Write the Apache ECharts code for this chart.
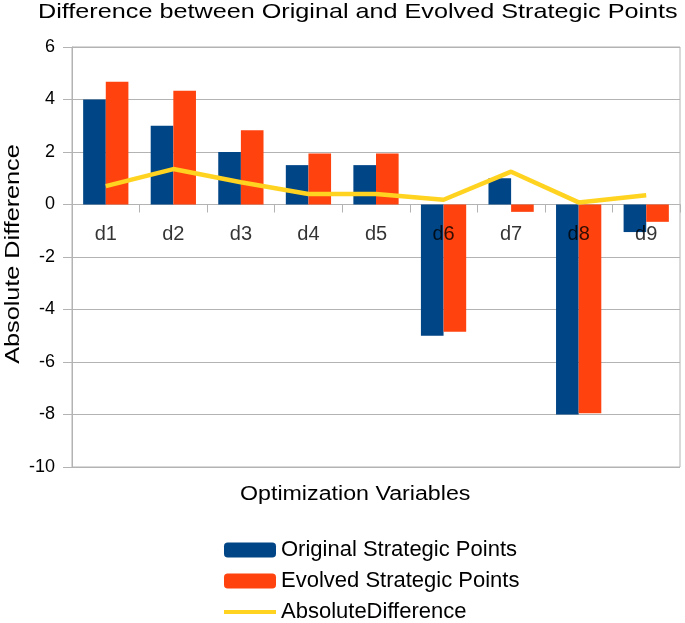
<!DOCTYPE html>
<html><head><meta charset="utf-8">
<script src="https://cdn.jsdelivr.net/npm/echarts@6/dist/echarts.min.js"></script>
<style>html,body{margin:0;padding:0;background:#fff}#c{width:685px;height:623px}</style>
</head><body><div id="c"></div>
<script>
const categories = ['d1', 'd2', 'd3', 'd4', 'd5', 'd6', 'd7', 'd8', 'd9'];
const originalPoints = [4, 3, 2, 1.5, 1.5, -5, 1, -8, -1.05];
const evolvedPoints = [4.68, 4.33, 2.83, 1.94, 1.94, -4.85, -0.28, -7.95, -0.66];
const absoluteDifference = [0.7, 1.35, 0.85, 0.4, 0.4, 0.18, 1.25, 0.08, 0.35];
const labelBaseline = [0, 0, 0, 0, 0, 0, 0, 0, 0];
const yMin = -10, yMax = 6, yInterval = 2;

const FONT = '"Liberation Sans", Arial, sans-serif';
const chart = echarts.init(document.getElementById('c'), null, {renderer: 'canvas'});
const legendText = {fontFamily: FONT, fontSize: 22, color: '#000', lineHeight: 22};
chart.setOption({
  animation: false,
  backgroundColor: '#fff',
  textStyle: {fontFamily: FONT, color: '#000'},
  grid: {left: 72, right: 5, top: 47, bottom: 156, show: true, borderColor: '#b3b3b3', borderWidth: 1, containLabel: false, outerBoundsMode: 'none'},
  legend: [
    {orient: 'vertical', left: 224, top: 539, padding: 0, itemWidth: 52, itemHeight: 15,
     textStyle: legendText, data: ['Original Strategic Points']},
    {orient: 'vertical', left: 224, top: 570, padding: 0, itemWidth: 52, itemHeight: 15,
     textStyle: legendText, data: ['Evolved Strategic Points']},
    {orient: 'vertical', left: 224, top: 601, padding: 0, itemWidth: 52, itemHeight: 4,
     textStyle: legendText, data: [{name: 'AbsoluteDifference', icon: 'rect'}]}
  ],
  graphic: [
    {type: 'text', x: 38, y: 2, scaleX: 1.2,
     style: {text: 'Difference between Original and Evolved Strategic Points', font: '21px ' + FONT, fill: '#000', align: 'left', verticalAlign: 'top'}},
    {type: 'text', x: 240, y: 484, scaleX: 1.16,
     style: {text: 'Optimization Variables', font: '20px ' + FONT, fill: '#000', align: 'left', verticalAlign: 'top'}},
    {type: 'text', x: 13, y: 254, rotation: Math.PI / 2, scaleX: 1.2,
     style: {text: 'Absolute Difference', font: '21px ' + FONT, fill: '#000', align: 'center', verticalAlign: 'middle'}}
  ],
  xAxis: {
    type: 'category', data: categories,
    axisLine: {onZero: true, lineStyle: {color: '#b3b3b3', width: 1}},
    axisTick: {show: true, length: 8, lineStyle: {color: '#b3b3b3'}},
    axisLabel: {show: false},
    splitLine: {show: false}
  },
  yAxis: {
    type: 'value', min: yMin, max: yMax, interval: yInterval,
    axisLine: {show: true, lineStyle: {color: '#b3b3b3', width: 1}},
    axisTick: {show: true, length: 9, lineStyle: {color: '#b3b3b3'}},
    axisLabel: {margin: 17, fontSize: 18, color: '#000', fontFamily: FONT},
    splitLine: {show: true, lineStyle: {color: '#b3b3b3', width: 1}}
  },
  series: [
    {name: 'Original Strategic Points', type: 'bar', data: originalPoints, barGap: '0%', barCategoryGap: '33%', itemStyle: {color: '#004586'}},
    {name: 'Evolved Strategic Points', type: 'bar', data: evolvedPoints, barGap: '0%', barCategoryGap: '33%', itemStyle: {color: '#ff420e'}},
    {name: 'AbsoluteDifference', type: 'line', data: absoluteDifference, symbol: 'none', z: 5, lineStyle: {color: '#ffd320', width: 4.5}, itemStyle: {color: '#ffd320'}},
    {name: 'categoryLabels', type: 'scatter', data: labelBaseline, symbolSize: 0, silent: true, z: 10,
     label: {show: true, position: 'bottom', distance: 20, formatter: p => p.name, fontFamily: FONT, fontSize: 20, color: '#000'}}
  ]
});
</script></body></html>
